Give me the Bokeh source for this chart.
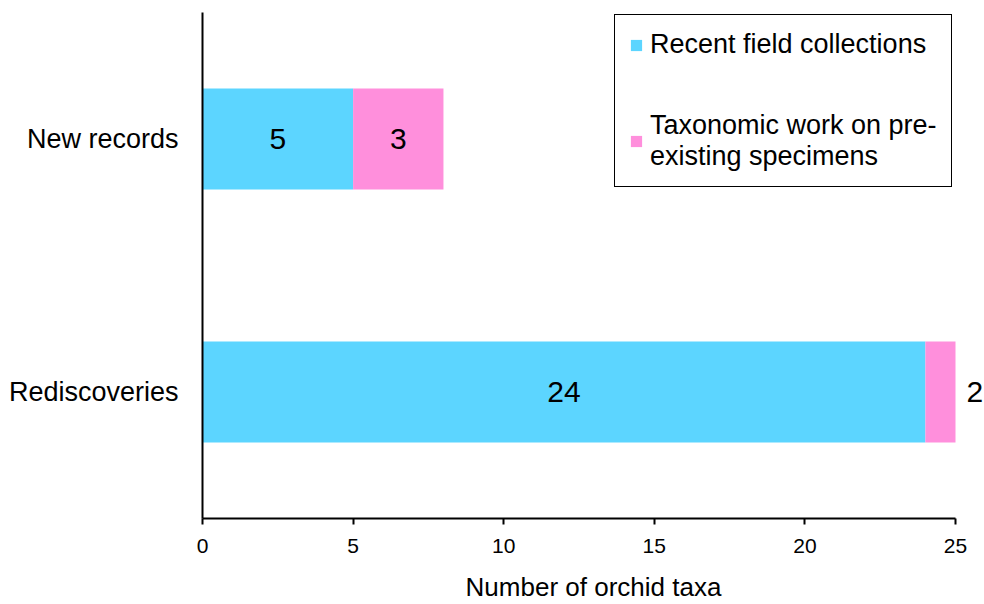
from bokeh.plotting import figure
from bokeh.models import ColumnDataSource, Range1d, LabelSet, Legend, LegendItem, FixedTicker
from bokeh.core.properties import value
from bokeh.embed import file_html
from bokeh.resources import INLINE

categories = ["Rediscoveries", "New records"]
recent = [24, 5]
taxonomic = [2, 3]
series_names = ["Recent field collections", "Taxonomic work on pre-\nexisting specimens"]
colors = ["#5CD5FF", "#FF8FDC"]
x_max = 25
x_ticks = [0, 5, 10, 15, 20, 25]

FONT = "Liberation Sans"

# axis runs 0..x_max over 753 px; frame extends to the window edge so the
# value label past the axis end stays visible
axis_px = 753
extra_px = 29
x_end = x_max + extra_px * x_max / axis_px

p = figure(width=984, height=604, y_range=categories, x_range=Range1d(0, x_end),
           output_backend="svg", toolbar_location=None,
           min_border_left=202, min_border_right=0, min_border_top=12, min_border_bottom=84)
p.outline_line_color = None
p.grid.grid_line_color = None

r_left = [0] * len(categories)
r_mid = recent
r_right = [min(a + b, x_max) for a, b in zip(recent, taxonomic)]  # clipped at axis max

src = ColumnDataSource(dict(cat=categories, l0=r_left, r0=r_mid, l1=r_mid, r1=r_right))
b1 = p.hbar(y="cat", left="l0", right="r0", height=0.4, source=src, fill_color=colors[0], line_color=None)
b2 = p.hbar(y="cat", left="l1", right="r1", height=0.4, source=src, fill_color=colors[1], line_color=None)

# value labels
lab_x, lab_y, lab_t, lab_o, lab_a = [], [], [], [], []
for c, a, b in zip(categories, recent, taxonomic):
    lab_x.append(a / 2); lab_y.append(c); lab_t.append(str(a)); lab_o.append(0); lab_a.append("center")
    if a + b > x_max:
        lab_x.append(x_max); lab_o.append(11); lab_a.append("left")
    else:
        lab_x.append(a + b / 2); lab_o.append(0); lab_a.append("center")
    lab_y.append(c); lab_t.append(str(b))
lsrc = ColumnDataSource(dict(x=lab_x, y=lab_y, t=lab_t, o=lab_o, a=lab_a))
p.add_layout(LabelSet(x="x", y="y", text="t", x_offset="o", text_align="a", source=lsrc,
                      text_baseline="middle", text_font=value(FONT), text_font_size="30px",
                      text_color="black"))

# axes
p.xaxis.ticker = FixedTicker(ticks=x_ticks)
p.xaxis.bounds = (0, x_max)
p.xaxis.axis_label = "Number of orchid taxa"
p.xaxis.axis_label_text_font = FONT
p.xaxis.axis_label_text_font_size = "26px"
p.xaxis.axis_label_text_font_style = "normal"
p.xaxis.axis_label_text_color = "black"
p.xaxis.axis_label_text_line_height = 1.0
p.xaxis.axis_label_standoff = 16
p.xaxis.major_label_text_font = FONT
p.xaxis.major_label_text_font_size = "21px"
p.xaxis.major_label_text_color = "black"
p.xaxis.major_label_standoff = 14
p.xaxis.axis_line_width = 2
p.xaxis.axis_line_color = "black"
p.xaxis.major_tick_line_color = "black"
p.xaxis.major_tick_line_width = 2
p.xaxis.major_tick_in = 0
p.xaxis.major_tick_out = 6
p.xaxis.minor_tick_line_color = None

p.yaxis.axis_line_width = 2
p.yaxis.axis_line_color = "black"
p.yaxis.major_tick_line_color = None
p.yaxis.minor_tick_line_color = None
p.yaxis.major_label_text_font = FONT
p.yaxis.major_label_text_font_size = "27px"
p.yaxis.major_label_standoff = 18
p.yaxis.major_label_text_color = "black"

legend = Legend(items=[LegendItem(label=series_names[0], renderers=[b1]),
                       LegendItem(label=series_names[1], renderers=[b2])],
                location=(412, 331), orientation="vertical")
legend.label_text_font = FONT
legend.label_text_font_size = "27px"
legend.label_text_color = "black"
legend.label_text_line_height = 0.9
legend.glyph_width = 14
legend.glyph_height = 14
legend.label_standoff = 7
legend.padding = 14
legend.spacing = 50
legend.border_line_color = "black"
legend.border_line_width = 1.5
legend.border_line_alpha = 1
legend.background_fill_alpha = 1
p.add_layout(legend)

open("out.html", "w").write(file_html(p, INLINE))
